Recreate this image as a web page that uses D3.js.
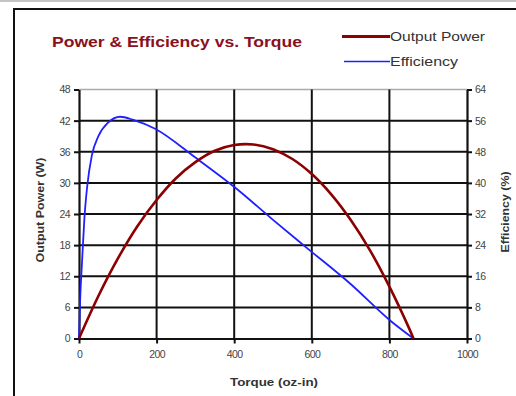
<!DOCTYPE html>
<html><head><meta charset="utf-8">
<script src="https://cdn.jsdelivr.net/npm/d3@7"></script>
<style>html,body{margin:0;padding:0;background:#fff;}svg{display:block;font-family:Arial,"Liberation Sans",sans-serif;}</style>
</head><body>
<svg id="c" width="516" height="396"></svg>
<script>
// ---- data ----
const powerTorque = [0,50,100,150,200,250,300,350,400,450,500,550,600,650,700,750,800,850,862];
const powerValues = [0,8.2,15.4,21.6,26.7,30.9,34.0,36.2,37.3,37.4,36.5,34.6,31.7,27.8,22.9,17.0,10.0,2.1,0];
const effTorque = [0,3,8,14,21,33,50,75,106,140,196,300,406,500,587,700,801,862];
const effValues = [0,10,20,31,39,47,52,55.5,57,56.2,53.9,46.5,38.5,30.5,23.3,14,4.7,0];
const xTicks = [0,200,400,600,800,1000];
const yLeftTicks = [0,6,12,18,24,30,36,42,48];
const yRightTicks = [0,8,16,24,32,40,48,56,64];
const titleText = "Power & Efficiency vs. Torque";
const seriesNames = ["Output Power","Efficiency"];
const axisTitles = {x:"Torque (oz-in)", yl:"Output Power (W)", yr:"Efficiency (%)"};

const svg = d3.select("#c");
const L=79, R=467, T=89.5, B=338.5;
const x = d3.scaleLinear().domain([0,1000]).range([L,R]);
const yl = d3.scaleLinear().domain([0,48]).range([B,T]);
const yr = d3.scaleLinear().domain([0,64]).range([B,T]);

// page line + frame
svg.append("line").attr("x1",0).attr("x2",516).attr("y1",1).attr("y2",1).attr("stroke","#888").attr("stroke-width",1);
svg.append("path").attr("d","M14,400 L14,9 L520,9").attr("fill","none").attr("stroke","#111").attr("stroke-width",2);

// title & legend
svg.append("text").attr("x",52).attr("y",46.5).attr("font-size",14).attr("font-weight","bold")
  .attr("fill","#8a1020").attr("textLength",250).attr("lengthAdjust","spacingAndGlyphs").text(titleText);
const leg = [{name:seriesNames[0],color:"#8b0000",w:3.2,y:36.5,x1:342,tl:95},{name:seriesNames[1],color:"#2020ff",w:1.6,y:61.5,x1:344,tl:68}];
leg.forEach(d=>{
  svg.append("line").attr("x1",d.x1).attr("x2",390).attr("y1",d.y).attr("y2",d.y).attr("stroke",d.color).attr("stroke-width",d.w);
  svg.append("text").attr("x",390).attr("y",d.y+4.5).attr("font-size",13).attr("fill","#333")
    .attr("textLength",d.tl).attr("lengthAdjust","spacingAndGlyphs").text(d.name);
});

// grid
const g = svg.append("g");
yLeftTicks.slice(1,-1).forEach(v=>{
  g.append("line").attr("x1",L).attr("x2",R).attr("y1",yl(v)).attr("y2",yl(v)).attr("stroke","#111").attr("stroke-width",2);
});
g.append("line").attr("x1",L).attr("x2",R).attr("y1",T).attr("y2",T).attr("stroke","#aaa").attr("stroke-width",1.5);
xTicks.slice(1,-1).forEach(v=>{
  g.append("line").attr("x1",x(v)).attr("x2",x(v)).attr("y1",T).attr("y2",B).attr("stroke","#111").attr("stroke-width",2);
});

// axes
const fmt = d3.format("d");
const axL = svg.append("g").attr("transform",`translate(${L},0)`).call(d3.axisLeft(yl).tickValues(yLeftTicks).tickFormat(fmt).tickSize(5).tickPadding(4).tickSizeOuter(0));
const axR = svg.append("g").attr("transform",`translate(${R},0)`).call(d3.axisRight(yr).tickValues(yRightTicks).tickFormat(fmt).tickSize(5).tickPadding(3).tickSizeOuter(0));
const axB = svg.append("g").attr("transform",`translate(0,${B})`).call(d3.axisBottom(x).tickValues(xTicks).tickFormat(fmt).tickSize(5).tickPadding(7).tickSizeOuter(0));
[axL,axR,axB].forEach(a=>{
  a.selectAll("path.domain").attr("stroke","#111").attr("stroke-width",2.2);
  a.selectAll(".tick line").attr("stroke","#111").attr("stroke-width",2);
  a.selectAll(".tick text").attr("font-size",10.5).attr("fill","#444").attr("font-family","Arial,'Liberation Sans',sans-serif").attr("letter-spacing",-0.6);
});

// axis titles
svg.append("text").attr("x",274).attr("y",386).attr("text-anchor","middle").attr("font-size",10.5).attr("font-weight","bold").attr("fill","#333")
  .attr("textLength",88).attr("lengthAdjust","spacingAndGlyphs").text(axisTitles.x);
svg.append("text").attr("transform","translate(44,210) rotate(-90)").attr("text-anchor","middle").attr("font-size",10.5).attr("font-weight","bold").attr("fill","#333")
  .attr("textLength",105).attr("lengthAdjust","spacingAndGlyphs").text(axisTitles.yl);
svg.append("text").attr("transform","translate(509,212) rotate(-90)").attr("text-anchor","middle").attr("font-size",10.5).attr("font-weight","bold").attr("fill","#333")
  .attr("textLength",81).attr("lengthAdjust","spacingAndGlyphs").text(axisTitles.yr);

// series
const pLine = d3.line().x(d=>x(d[0])).y(d=>yl(d[1])).curve(d3.curveCatmullRom.alpha(0.5));
const eLine = d3.line().x(d=>x(d[0])).y(d=>yr(d[1])).curve(d3.curveMonotoneX);
svg.append("path").datum(effTorque.map((t,i)=>[t,effValues[i]])).attr("d",eLine).attr("fill","none").attr("stroke","#2020ff").attr("stroke-width",1.8);
svg.append("path").datum(powerTorque.map((t,i)=>[t,powerValues[i]])).attr("d",pLine).attr("fill","none").attr("stroke","#8b0000").attr("stroke-width",2.6);
</script>
</body></html>
